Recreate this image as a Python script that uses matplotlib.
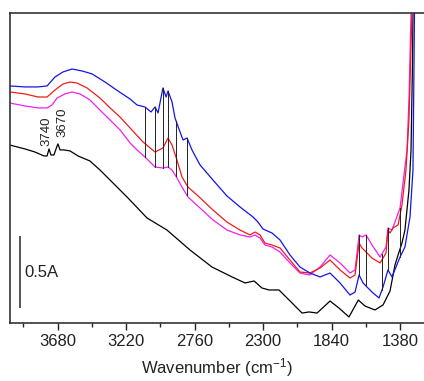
import numpy as np
import matplotlib

matplotlib.use("Agg")

import matplotlib.pyplot as plt

plt.rcParams['font.family'] = ['Liberation Sans', 'DejaVu Sans']
plt.rcParams['mathtext.fontset'] = 'custom'
plt.rcParams['mathtext.rm'] = 'Liberation Sans'
plt.rcParams['mathtext.it'] = 'Liberation Sans:italic'

# spectra: wavenumber (cm-1) and absorbance (A)
blue_wn = [4000, 3898, 3811, 3750, 3697, 3643, 3583, 3515, 3448, 3361, 3274, 3193, 3146, 3093,
           3052, 3025, 3005, 2972, 2951, 2938, 2911, 2891, 2857, 2837, 2810, 2777, 2723, 2636,
           2542, 2455, 2367, 2334, 2300, 2240, 2186, 2119, 2052, 1985, 1917, 1850, 1783, 1716,
           1682, 1655, 1628, 1602, 1561, 1521, 1494, 1461, 1434, 1407, 1380, 1347, 1313, 1293,
           1286, 1283, 1279]
blue_abs = [1.693, 1.686, 1.686, 1.693, 1.757, 1.793, 1.814, 1.800, 1.779, 1.721, 1.657, 1.600,
            1.557, 1.543, 1.507, 1.543, 1.500, 1.679, 1.614, 1.657, 1.579, 1.464, 1.364, 1.307,
            1.321, 1.236, 1.129, 1.021, 0.907, 0.829, 0.757, 0.721, 0.671, 0.643, 0.593, 0.486,
            0.400, 0.357, 0.329, 0.357, 0.286, 0.200, 0.221, 0.343, 0.286, 0.257, 0.214, 0.179,
            0.257, 0.379, 0.329, 0.400, 0.471, 0.543, 0.757, 1.093, 1.879, 2.214, 2.521]

red_wn = [4000, 3898, 3811, 3750, 3697, 3643, 3596, 3549, 3482, 3395, 3327, 3260, 3193, 3106,
          3025, 2972, 2938, 2911, 2878, 2844, 2804, 2743, 2636, 2542, 2455, 2387, 2354, 2320,
          2287, 2240, 2186, 2119, 2052, 1985, 1917, 1850, 1783, 1716, 1682, 1655, 1635, 1608,
          1568, 1514, 1474, 1461, 1447, 1427, 1393, 1367, 1340, 1320, 1300, 1293]
red_abs = [1.650, 1.636, 1.614, 1.614, 1.664, 1.707, 1.721, 1.714, 1.679, 1.607, 1.536, 1.471,
           1.393, 1.293, 1.221, 1.250, 1.321, 1.271, 1.164, 1.043, 0.971, 0.914, 0.807, 0.721,
           0.664, 0.629, 0.650, 0.629, 0.571, 0.557, 0.536, 0.450, 0.364, 0.357, 0.393, 0.450,
           0.379, 0.321, 0.343, 0.571, 0.536, 0.507, 0.464, 0.429, 0.500, 0.664, 0.643, 0.679,
           0.700, 0.843, 1.093, 1.450, 2.214, 2.521]

magenta_wn = [4000, 3898, 3811, 3750, 3717, 3683, 3630, 3583, 3529, 3462, 3395, 3327, 3260,
              3193, 3146, 3093, 3025, 2972, 2938, 2911, 2878, 2844, 2804, 2723, 2636, 2542,
              2455, 2387, 2354, 2320, 2287, 2240, 2186, 2119, 2052, 1985, 1917, 1850, 1783,
              1716, 1682, 1655, 1635, 1608, 1568, 1514, 1474, 1461, 1434, 1414, 1380, 1360,
              1333, 1320, 1306, 1300]
magenta_abs = [1.571, 1.550, 1.536, 1.536, 1.557, 1.607, 1.636, 1.650, 1.636, 1.593, 1.521,
               1.450, 1.379, 1.286, 1.236, 1.186, 1.114, 1.107, 1.114, 1.093, 1.036, 0.971,
               0.900, 0.821, 0.736, 0.664, 0.629, 0.614, 0.629, 0.607, 0.557, 0.543, 0.507,
               0.429, 0.357, 0.343, 0.400, 0.486, 0.429, 0.357, 0.379, 0.629, 0.614, 0.629,
               0.557, 0.471, 0.543, 0.679, 0.664, 0.721, 0.821, 1.000, 1.236, 1.593, 2.214,
               2.521]

black_wn = [4000, 3898, 3831, 3771, 3750, 3737, 3724, 3704, 3683, 3677, 3663, 3636, 3596, 3542,
            3462, 3395, 3280, 3207, 3079, 2945, 2790, 2643, 2508, 2421, 2360, 2307, 2260, 2193,
            2105, 2038, 1991, 1937, 1850, 1790, 1723, 1660, 1615, 1548, 1494, 1447, 1414, 1393,
            1367, 1347, 1320, 1306, 1296, 1293, 1290]
black_abs = [1.271, 1.243, 1.221, 1.193, 1.193, 1.243, 1.200, 1.200, 1.264, 1.279, 1.236, 1.236,
             1.229, 1.193, 1.157, 1.093, 0.971, 0.893, 0.750, 0.664, 0.521, 0.400, 0.329, 0.286,
             0.300, 0.250, 0.236, 0.236, 0.143, 0.071, 0.079, 0.071, 0.157, 0.107, 0.043, 0.164,
             0.121, 0.093, 0.129, 0.229, 0.414, 0.486, 0.571, 0.664, 0.950, 1.236, 1.879, 2.214,
             2.521]

# band positions marked with vertical lines
marker_wn = [3093, 3025, 2972, 2938, 2884, 2810, 1655, 1608, 1501, 1461, 1380]
peak_labels = ["3740", "3670"]
peak_wn = [3752, 3645]
peak_abs = [1.264, 1.329]

major_ticks = [3680, 3220, 2760, 2300, 1840, 1380]
minor_ticks = [3910, 3450, 2990, 2530, 2070, 1610]


def at(wn, xs, ys):
    return np.interp(wn, xs[::-1], ys[::-1])


fig = plt.figure(figsize=(4.24, 3.81), dpi=100)
ax = fig.add_axes([10 / 424, 58 / 381, 414 / 424, 310 / 381])

ax.plot(black_wn, black_abs, color='black', lw=0.9)
ax.plot(magenta_wn, magenta_abs, color='#ee22ee', lw=0.9)
ax.plot(red_wn, red_abs, color='#ee1c1c', lw=0.9)
ax.plot(blue_wn, blue_abs, color='#1414e6', lw=0.9)

for w in marker_wn:
    vals = [at(w, blue_wn, blue_abs), at(w, red_wn, red_abs), at(w, magenta_wn, magenta_abs)]
    ax.plot([w, w], [min(vals), max(vals)], color='#222222', lw=0.7)

for lab, w, a in zip(peak_labels, peak_wn, peak_abs):
    ax.text(w, a, lab, rotation=90, ha='center', va='bottom', fontsize=9.5, color='#222222')

# 0.5 A scale bar
ax.plot([3932, 3932], [0.114, 0.614], color='#555555', lw=1.4)
ax.text(3905, 0.364, "0.5A", ha='left', va='center', fontsize=12, color='#222222')

ax.set_xlim(3999, 1219)
ax.set_ylim(0, 2.214)
ax.set_xticks(major_ticks)
ax.set_xticks(minor_ticks, minor=True)
ax.set_yticks([])
ax.tick_params(axis='x', which='major', direction='out', length=5, width=1,
               labelsize=12, pad=3, colors='#222222')
ax.tick_params(axis='x', which='minor', direction='out', length=3, width=1, colors='#222222')
ax.spines['right'].set_visible(False)
for s in ['left', 'top', 'bottom']:
    ax.spines[s].set_linewidth(1.2)
    ax.spines[s].set_color('#333333')

ax.set_xlabel("Wavenumber (cm$^{-1}$)", fontsize=12, labelpad=5, color='#222222')

fig.savefig("out.png", dpi=100)
